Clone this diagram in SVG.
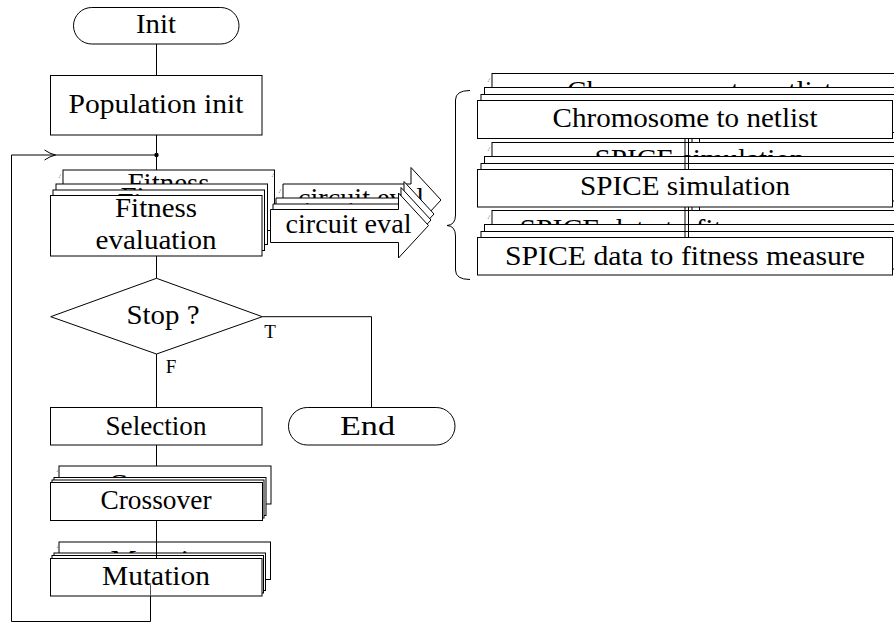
<svg xmlns="http://www.w3.org/2000/svg" xmlns:xlink="http://www.w3.org/1999/xlink" width="894" height="625" viewBox="0 0 894 625">
<style>
.b{fill:#fff;stroke:#000;stroke-width:1}
.l{fill:none;stroke:#000;stroke-width:1}
.t{font-family:"Liberation Serif","Times New Roman",serif;font-size:27px;text-anchor:middle;fill:#000}
.s{font-family:"Liberation Serif","Times New Roman",serif;font-size:19px;text-anchor:middle;fill:#000}
.m{fill:none;stroke:#777;stroke-width:0.8;stroke-dasharray:1.5 1}
</style>
<defs>
<g id="fitS"><rect class="b" x="50.5" y="195.5" width="211.5" height="60.5"/><text class="t" x="156" y="217.3" textLength="82" lengthAdjust="spacingAndGlyphs">Fitness</text><text class="t" x="156" y="249.3" textLength="121" lengthAdjust="spacingAndGlyphs">evaluation</text></g>
<g id="arrS"><path class="b" d="M270.5,209.5 H398.5 V193 L428.5,225.5 L398.5,258 V242.5 H270.5 Z"/><text class="t" x="348.5" y="232.7" textLength="126" lengthAdjust="spacingAndGlyphs">circuit eval</text></g>
<g id="crsS"><rect class="b" x="50.5" y="482.5" width="212" height="38"/><text class="t" x="156" y="509.3" textLength="111" lengthAdjust="spacingAndGlyphs">Crossover</text></g>
<g id="mutS"><rect class="b" x="50.5" y="558.5" width="211.5" height="37.5"/><text class="t" x="156" y="585" textLength="108" lengthAdjust="spacingAndGlyphs">Mutation</text></g>
<g id="chrS"><rect class="b" x="477.5" y="100.5" width="415" height="38"/><text class="t" x="685" y="126.7" textLength="265" lengthAdjust="spacingAndGlyphs">Chromosome to netlist</text></g>
<g id="simS"><rect class="b" x="477.5" y="169.5" width="415" height="37.5"/><text class="t" x="685" y="195" textLength="210" lengthAdjust="spacingAndGlyphs">SPICE simulation</text></g>
<g id="datS"><rect class="b" x="477.5" y="237.5" width="415" height="37.5"/><text class="t" x="685" y="265" textLength="360" lengthAdjust="spacingAndGlyphs">SPICE data to fitness measure</text></g>
</defs>

<g id="init">
<rect class="b" x="73.5" y="7.5" width="165.5" height="36.5" rx="18.25" ry="18.25"/>
<text class="t" x="156" y="33.3" textLength="40" lengthAdjust="spacingAndGlyphs">Init</text>
</g>

<g id="popinit">
<rect class="b" x="50.5" y="75.5" width="211.5" height="59.5"/>
<text class="t" x="156" y="113.3" textLength="175" lengthAdjust="spacingAndGlyphs">Population init</text>
</g>

<g id="fitness">
<use xlink:href="#fitS" href="#fitS" transform="translate(12.5,-25.5)"/>
<use xlink:href="#fitS" href="#fitS" transform="translate(5.5,-11.5)"/>
<use xlink:href="#fitS" href="#fitS" transform="translate(2.5,-5.5)"/>
<use xlink:href="#fitS" href="#fitS"/>
</g>

<g id="circuiteval">
<use xlink:href="#arrS" href="#arrS" transform="translate(12.5,-25.5)"/>
<use xlink:href="#arrS" href="#arrS" transform="translate(5.5,-11.5)"/>
<use xlink:href="#arrS" href="#arrS" transform="translate(2.5,-5.5)"/>
<use xlink:href="#arrS" href="#arrS"/>
</g>

<g id="chromosome">
<use xlink:href="#chrS" href="#chrS" transform="translate(14.5,-27)"/>
<use xlink:href="#chrS" href="#chrS" transform="translate(7,-13)"/>
<use xlink:href="#chrS" href="#chrS" transform="translate(3.5,-6)"/>
<use xlink:href="#chrS" href="#chrS"/>
</g>

<g id="spicesim">
<use xlink:href="#simS" href="#simS" transform="translate(14.5,-27)"/>
<use xlink:href="#simS" href="#simS" transform="translate(7,-13)"/>
<use xlink:href="#simS" href="#simS" transform="translate(3.5,-6)"/>
</g>

<g id="spicedata">
<use xlink:href="#datS" href="#datS" transform="translate(14.5,-27)"/>
<use xlink:href="#datS" href="#datS" transform="translate(7,-13)"/>
<use xlink:href="#datS" href="#datS" transform="translate(3.5,-6)"/>
</g>

<g id="stop">
<polygon class="b" points="156.5,278.3 262.3,316.7 156.5,354 50.7,316.7"/>
<text class="t" x="163" y="324" textLength="73" lengthAdjust="spacingAndGlyphs">Stop ?</text>
</g>

<g id="selection">
<rect class="b" x="50.5" y="407.5" width="211.5" height="37.5"/>
<text class="t" x="156" y="435" textLength="101" lengthAdjust="spacingAndGlyphs">Selection</text>
</g>

<g id="end">
<rect class="b" x="288.5" y="407.5" width="166.5" height="37.5" rx="18.75" ry="18.75"/>
<text class="t" x="367.5" y="435" textLength="55" lengthAdjust="spacingAndGlyphs">End</text>
</g>

<g id="crossover">
<use xlink:href="#crsS" href="#crsS" transform="translate(8.5,-16.5)"/>
<use xlink:href="#crsS" href="#crsS" transform="translate(3.5,-5)"/>
<use xlink:href="#crsS" href="#crsS" transform="translate(1.5,-2.5)"/>
<use xlink:href="#crsS" href="#crsS"/>
</g>

<g id="mutation">
<use xlink:href="#mutS" href="#mutS" transform="translate(8.5,-16.5)"/>
<use xlink:href="#mutS" href="#mutS" transform="translate(3.5,-5.5)"/>
<use xlink:href="#mutS" href="#mutS" transform="translate(1.5,-3)"/>
</g>

<g id="connectors">
<path class="l" d="M156.5,44 V75.5"/>
<path class="l" d="M156.5,135 V170"/>
<circle cx="156.5" cy="155" r="2.2" fill="#000"/>
<path class="l" d="M11.5,155 H156.5"/>
<path class="l" d="M44.5,150 Q50,153.8 55.5,155 Q50,156.2 44.5,160"/>
<path class="l" d="M11.5,155 V621.5 H150.5 V596"/>
<path class="l" d="M156.5,256 V278.3"/>
<path class="l" d="M156.5,354 V407.5"/>
<path class="l" d="M262.3,316.7 H371.5 V407.5"/>
<path class="l" d="M156.5,445 V466"/>
<path class="l" d="M156.5,520.5 V558.5"/>
<path class="l" d="M685,138.5 V169.5 M688.5,138.5 V169.5 M692,138.5 V142 M699.5,138.5 V142.5"/>
<path class="l" d="M685,207 V237.5 M688.5,207 V237.5 M692,207 V211 M699.5,207 V210.5"/>
</g>

<g id="spicesim-front"><use xlink:href="#simS" href="#simS"/></g>
<g id="spicedata-front"><use xlink:href="#datS" href="#datS"/></g>
<g id="mutation-front">
<use xlink:href="#mutS" href="#mutS"/>
<path d="M150.5,585 V596" fill="none" stroke="#555" stroke-width="1"/>
</g>

<g id="labels">
<text class="s" x="270" y="338.3">T</text>
<text class="s" x="171" y="373.3">F</text>
</g>

<g id="brace">
<path class="l" d="M470,90.5 Q455.5,90.5 455.5,100 V215 Q455.5,225 447,225.5 Q455.5,226 455.5,236 V270 Q455.5,279.5 470,279.5"/>
</g>

<g id="marks">
<path class="m" d="M59,178 L61,174"/>
<path class="m" d="M272,177 L274,173"/>
<path class="m" d="M279,193 L281,189"/>
<path class="m" d="M488,82 L490,78"/>
<path class="m" d="M488,151 L490,147"/>
<path class="m" d="M488,219 L490,215"/>
<path class="m" d="M57,472 L59,468"/>
<path class="m" d="M57,548 L59,544"/>
</g>
</svg>
